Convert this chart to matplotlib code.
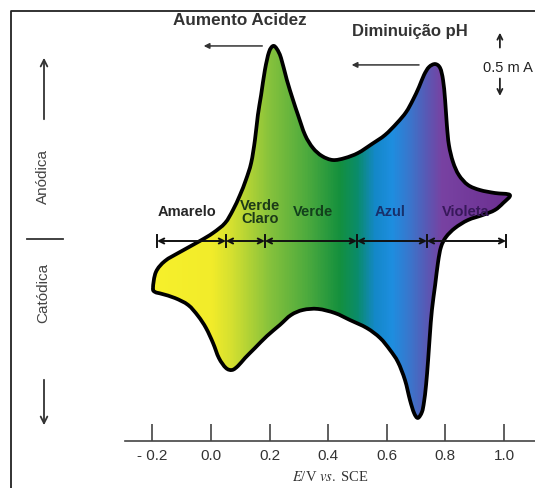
import numpy as np
import matplotlib
matplotlib.use("Agg")
import matplotlib.pyplot as plt
from matplotlib.colors import LinearSegmentedColormap
from matplotlib.patches import PathPatch, FancyArrowPatch
from matplotlib.path import Path

plt.rcParams['font.family'] = ['Liberation Sans', 'DejaVu Sans']
plt.rcParams['mathtext.fontset'] = 'stix'

# potential (V vs SCE) and current (mA)
e_fwd = [-0.198, -0.188, -0.157, -0.106, -0.038, 0.007, 0.048, 0.075, 0.099, 0.119,
         0.137, 0.150, 0.160, 0.171, 0.184, 0.198, 0.212, 0.225, 0.239, 0.259,
         0.280, 0.297, 0.321, 0.348, 0.379, 0.416, 0.457, 0.502, 0.549, 0.594,
         0.635, 0.666, 0.689, 0.710, 0.727, 0.744, 0.765, 0.782, 0.792, 0.799,
         0.805, 0.812, 0.826, 0.846, 0.877, 0.918, 0.969, 1.020]
i_fwd = [-0.379, -0.250, -0.161, -0.089, 0.000, 0.065, 0.145, 0.250, 0.371, 0.492,
         0.629, 0.815, 1.016, 1.177, 1.379, 1.524, 1.573, 1.548, 1.476, 1.298,
         1.137, 1.016, 0.855, 0.750, 0.685, 0.653, 0.669, 0.710, 0.782, 0.855,
         0.952, 1.040, 1.137, 1.242, 1.339, 1.403, 1.427, 1.395, 1.298, 1.137,
         0.935, 0.774, 0.637, 0.532, 0.452, 0.411, 0.387, 0.371]

e_rev = [0.997, 0.969, 0.928, 0.877, 0.833, 0.802, 0.785, 0.775, 0.765, 0.754,
         0.747, 0.741, 0.734, 0.727, 0.720, 0.706, 0.693, 0.679, 0.662, 0.638,
         0.611, 0.577, 0.532, 0.474, 0.423, 0.365, 0.314, 0.273, 0.235, 0.191,
         0.150, 0.116, 0.092, 0.072, 0.051, 0.027, 0.007, -0.017, -0.044, -0.078,
         -0.123, -0.167, -0.191]
i_rev = [0.306, 0.250, 0.210, 0.169, 0.105, 0.032, -0.048, -0.169, -0.355, -0.556,
         -0.758, -0.960, -1.161, -1.298, -1.379, -1.427, -1.387, -1.282, -1.121, -0.976,
         -0.879, -0.782, -0.702, -0.637, -0.581, -0.548, -0.556, -0.597, -0.677, -0.766,
         -0.863, -0.944, -1.008, -1.040, -1.024, -0.944, -0.823, -0.702, -0.605, -0.516,
         -0.460, -0.427, -0.411]

# colour zones along the potential axis
zone_edges = [-0.184, 0.051, 0.184, 0.498, 0.737, 1.007]
zone_names = ['Amarelo', 'Verde\nClaro', 'Verde', 'Azul', 'Violeta']
zone_label_x = [-0.082, 0.168, 0.349, 0.612, 0.868]
zone_text_colors = ['#262626', '#1c3a18', '#12401c', '#18306a', '#38185a']

ticks = [-0.2, 0.0, 0.2, 0.4, 0.6, 0.8, 1.0]
tick_labels = ['- 0.2', '0.0', '0.2', '0.4', '0.6', '0.8', '1.0']

grad_stops = [(-0.20, '#f7f02c'), (0.0, '#f2ec2a'), (0.07, '#d4e030'), (0.2, '#86c23c'),
              (0.33, '#4caa3e'), (0.44, '#14903e'), (0.5, '#0a8c6a'), (0.56, '#1488c8'),
              (0.62, '#1e8ee0'), (0.68, '#3a76cc'), (0.74, '#5a58b4'), (0.79, '#7842a2'),
              (1.05, '#6a2c8e')]

W, H = 535, 488
fig = plt.figure(figsize=(W / 100, H / 100), dpi=100)
ax_left, ax_bottom = 125, 441
ax = fig.add_axes([ax_left / W, (H - ax_bottom) / H, (W - ax_left) / W, ax_bottom / H])
ax.set_xlim((ax_left - 211) / 293, (W - 211) / 293)
ax.set_ylim((241 - ax_bottom) / 124, 241 / 124)

# closed outline drawn as a smooth Bezier path through the read points
pts = np.column_stack([np.concatenate([e_fwd, e_rev]), np.concatenate([i_fwd, i_rev])])
n = len(pts)
verts = [pts[0]]
codes = [Path.MOVETO]
for k in range(n):
    p0, p1, p2, p3 = pts[k - 1], pts[k], pts[(k + 1) % n], pts[(k + 2) % n]
    verts += [p1 + (p2 - p0) / 6, p2 - (p3 - p1) / 6, p2]
    codes += [Path.CURVE4] * 3
outline = Path(verts, codes)

e0, e1 = grad_stops[0][0], grad_stops[-1][0]
cmap = LinearSegmentedColormap.from_list(
    'cv', [((e - e0) / (e1 - e0), c) for e, c in grad_stops])
grad = np.linspace(e0, e1, 400).reshape(1, -1)
patch = PathPatch(outline, facecolor='none', edgecolor='black', lw=2.7,
                  joinstyle='round', zorder=3)
img = ax.imshow(grad, cmap=cmap, extent=[e0, e1, -1.6, 1.7], aspect='auto',
                interpolation='bilinear', zorder=2)
ax.add_patch(patch)
img.set_clip_path(patch)

# zone arrows on the zero-current line
for a, b in zip(zone_edges[:-1], zone_edges[1:]):
    ax.annotate('', xy=(a, 0), xytext=(b, 0),
                arrowprops=dict(arrowstyle='<->', lw=1.4, color='#111',
                                shrinkA=0, shrinkB=0, mutation_scale=9), zorder=4)
for e in zone_edges:
    ax.plot([e, e], [-0.05, 0.05], color='#111', lw=1.4, zorder=4)
for x, name, c in zip(zone_label_x, zone_names, zone_text_colors):
    ax.text(x, 0.23, name, ha='center', va='center', fontsize=10.5,
            fontweight='bold', color=c, linespacing=0.95, zorder=5)

# peak shift annotations
ax.text(0.1, 1.78, 'Aumento Acidez', ha='center', va='center', fontsize=12.3,
        fontweight='bold', color='#333')
ax.annotate('', xy=(-0.025, 1.573), xytext=(0.175, 1.573),
            arrowprops=dict(arrowstyle='-|>', lw=1.1, color='#333',
                            mutation_scale=8, shrinkA=0, shrinkB=0))
ax.text(0.68, 1.69, 'Diminuição pH', ha='center', va='center', fontsize=12,
        fontweight='bold', color='#333')
ax.annotate('', xy=(0.48, 1.42), xytext=(0.71, 1.42),
            arrowprops=dict(arrowstyle='-|>', lw=1.1, color='#333',
                            mutation_scale=8, shrinkA=0, shrinkB=0))

# 0.5 mA scale bar
ax.annotate('', xy=(0.986, 1.68), xytext=(0.986, 1.56),
            arrowprops=dict(arrowstyle='->', lw=1.3, color='#222',
                            mutation_scale=9, shrinkA=0, shrinkB=0))
ax.annotate('', xy=(0.986, 1.17), xytext=(0.986, 1.31),
            arrowprops=dict(arrowstyle='->', lw=1.3, color='#222',
                            mutation_scale=9, shrinkA=0, shrinkB=0))
ax.text(0.93, 1.395, '0.5 m A', ha='left', va='center', fontsize=10.5, color='#222')

# axis
for s in ['top', 'right', 'left']:
    ax.spines[s].set_visible(False)
ax.spines['bottom'].set_color('#444')
ax.spines['bottom'].set_linewidth(1.2)
ax.set_yticks([])
ax.set_xticks(ticks)
ax.set_xticklabels(tick_labels)
ax.tick_params(axis='x', direction='in', length=12, width=1.2, color='#444',
               labelsize=11, labelcolor='#333', pad=6)
ax.set_xlabel(r'$E$/V $vs.$ SCE', fontsize=10.5, family='Liberation Serif',
              color='#333', labelpad=5)

# anodic / cathodic indicators on the left
fig.text(43 / W, 1 - 177 / H, 'Anódica', rotation=90, ha='center', va='center',
         fontsize=11, color='#444')
fig.text(43 / W, 1 - 293 / H, 'Catódica', rotation=90, ha='center', va='center',
         fontsize=11, color='#444')
fig.add_artist(plt.Line2D([27 / W, 63 / W], [1 - 239 / H, 1 - 239 / H],
                          color='#333', lw=1.3))
fig.add_artist(FancyArrowPatch(
    (44 / W, 1 - 122 / H), (44 / W, 1 - 55 / H), transform=fig.transFigure,
    arrowstyle='->', mutation_scale=12, lw=1.3, color='#333'))
fig.add_artist(FancyArrowPatch(
    (44 / W, 1 - 377 / H), (44 / W, 1 - 428 / H), transform=fig.transFigure,
    arrowstyle='->', mutation_scale=12, lw=1.3, color='#333'))

# frame
fig.add_artist(plt.Line2D([11 / W, 11 / W, 1.0], [0.0, 1 - 11 / H, 1 - 11 / H],
                          color='#222', lw=1.3))

fig.savefig('out.png', dpi=100)
